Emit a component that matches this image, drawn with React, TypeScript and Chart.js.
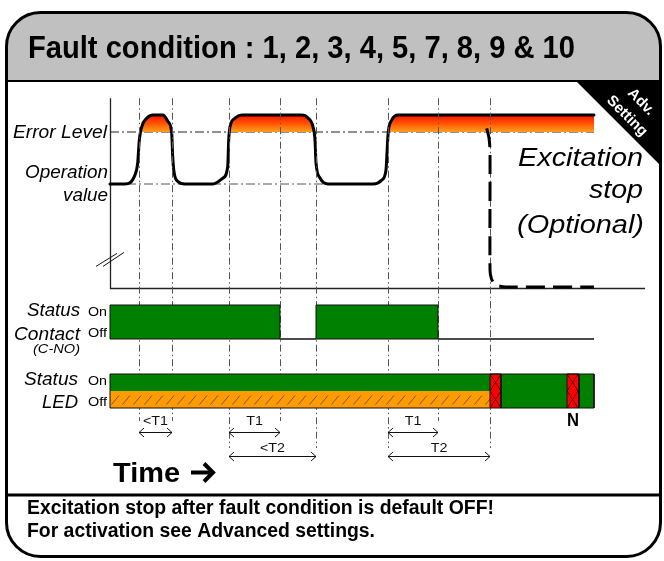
import React, { useEffect, useRef } from "react";
import { Chart, registerables } from "chart.js";

Chart.register(...registerables);

const W = 664;
const H = 561;
const FONT = '"Liberation Sans", Arial, Helvetica, sans-serif';

// ---------------- data ----------------
// time in arbitrary units (T1 ≈ 5, T2 ≈ 10); signal level in arbitrary units
const ERROR_LEVEL = 80;
const OPERATION_VALUE = 60;
const AXIS_FLOOR = 20;
const AXIS_TOP = 93;
const AXIS_END = 53.5;
const BREAK_LEVEL = 31;

const SIGNAL_T = [0, 1.5, 2.5, 2.77, 2.93, 3.17, 3.67, 4.3, 5.3, 5.8, 6.17, 6.27, 6.4, 6.8, 7.5, 10.3, 11.3, 11.77, 11.87, 12.0, 12.5, 13.17, 19.17, 19.8, 20.3, 20.5, 20.6, 21.0, 21.8, 26.33, 27.17, 27.6, 27.73, 27.83, 28.17, 28.83, 48.4];
const SIGNAL_V = [60, 60, 63.5, 68.1, 76.9, 82.0, 85.3, 86.5, 86.5, 84.0, 79.6, 70.5, 64.7, 60.9, 60, 60, 62.3, 66.7, 76.9, 82.0, 85.3, 86.5, 86.5, 85.4, 82.0, 76.9, 68.1, 62.3, 60, 60, 61.5, 65.4, 74.3, 80.1, 84.6, 86.5, 86.5];

const ERROR_LINE_T = [0, 48.4];
const OPERATION_LINE_T = [0, 26.6];

const EXCITATION_T = [37.67, 37.9, 38.0, 38.0, 38.15, 38.5, 39.0, 39.6, 48.4];
const EXCITATION_V = [81.4, 77.7, 73.1, 26.9, 23.5, 21.3, 20.7, 20.4, 20.4];

const EVENT_TIMES = [2.9, 6.2, 11.9, 17.0, 20.6, 27.8, 32.8, 38.0];
const EVENT_ROWS = [1, 1, 2, 1, 2, 2, 1, 2];

const CONTACT_T = [0, 0, 17.0, 20.6, 32.8, 48.4];
const CONTACT_S = [0, 1, 0, 1, 0, 0];

const LED_BLINK = [0, 38.0];
const LED_FAULT = [[38.0, 39.1], [45.7, 46.9]];
const LED_STEADY = [[39.1, 45.7], [46.9, 48.4]];
const LED_END = 48.4;
const FAULT_MARK_T = 46.3;

const ARROW_FROM = [2.9, 11.9, 11.9, 27.8, 27.8];
const ARROW_TO = [6.2, 17.0, 20.6, 32.8, 38.0];
const ARROW_ROW = [1, 1, 2, 1, 2];
const ARROW_LABEL = ["<T1", "T1", "<T2", "T1", "T2"];

// ---------------- helpers ----------------
function span(v0: number, p0: number, v1: number, p1: number, size: number) {
  const k = (p1 - p0) / (v1 - v0);
  const a = v0 + (0 - p0) / k;
  const b = v0 + (size - p0) / k;
  return { min: Math.min(a, b), max: Math.max(a, b) };
}

function pts(xs: number[], ys: number[]) {
  return xs.map((x, i) => ({ x, y: ys[i] }));
}

function rectPts(x0: number, x1: number, b: number, t: number) {
  return [
    { x: x0, y: b },
    { x: x0, y: t },
    { x: x1, y: t },
    { x: x1, y: b },
  ];
}

function roundRectPath(ctx: CanvasRenderingContext2D, x: number, y: number, w: number, h: number, r: number) {
  ctx.beginPath();
  ctx.moveTo(x + r, y);
  ctx.lineTo(x + w - r, y);
  ctx.arcTo(x + w, y, x + w, y + r, r);
  ctx.lineTo(x + w, y + h - r);
  ctx.arcTo(x + w, y + h, x + w - r, y + h, r);
  ctx.lineTo(x + r, y + h);
  ctx.arcTo(x, y + h, x, y + h - r, r);
  ctx.lineTo(x, y + r);
  ctx.arcTo(x, y, x + r, y, r);
  ctx.closePath();
}

function fit(ctx: CanvasRenderingContext2D, text: string, font: string, x0: number, x1: number, y: number, color = "#000") {
  ctx.save();
  ctx.font = font;
  ctx.fillStyle = color;
  ctx.textAlign = "left";
  ctx.textBaseline = "alphabetic";
  const m = ctx.measureText(text).width || 1;
  ctx.translate(x0, y);
  ctx.scale((x1 - x0) / m, 1);
  ctx.fillText(text, 0, 0);
  ctx.restore();
}

const FRAME = { x: 6.5, y: 12.5, w: 654, h: 544, r: 34 };

const diagramPlugin = {
  id: "diagram",
  beforeDraw(chart: any) {
    const ctx: CanvasRenderingContext2D = chart.ctx;
    ctx.save();
    ctx.fillStyle = "#fff";
    ctx.fillRect(0, 0, W, H);
    roundRectPath(ctx, FRAME.x, FRAME.y, FRAME.w, FRAME.h, FRAME.r);
    ctx.clip();
    ctx.fillStyle = "#c0c0c0";
    ctx.fillRect(0, 0, W, 81);
    ctx.fillStyle = "#000";
    ctx.beginPath();
    ctx.moveTo(576, 81);
    ctx.lineTo(668, 81);
    ctx.lineTo(668, 173);
    ctx.closePath();
    ctx.fill();
    ctx.restore();
  },
  beforeDatasetsDraw(chart: any) {
    const ctx: CanvasRenderingContext2D = chart.ctx;
    const xs = chart.scales.x;
    const ys = chart.scales.ySig;
    const x0 = Math.round(xs.getPixelForValue(0)) + 0.5;
    const yTop = ys.getPixelForValue(AXIS_TOP);
    const yFloor = Math.round(ys.getPixelForValue(AXIS_FLOOR)) + 0.5;
    const xEnd = xs.getPixelForValue(AXIS_END);
    ctx.save();
    ctx.strokeStyle = "#222";
    ctx.lineWidth = 1.3;
    ctx.beginPath();
    ctx.moveTo(x0, yTop);
    ctx.lineTo(x0, yFloor);
    ctx.lineTo(xEnd, yFloor);
    ctx.stroke();
    const yb = ys.getPixelForValue(BREAK_LEVEL);
    ctx.lineWidth = 1;
    ctx.strokeStyle = "#111";
    ctx.beginPath();
    ctx.moveTo(x0 - 14.5, yb + 7);
    ctx.lineTo(x0 + 6.5, yb - 6);
    ctx.moveTo(x0 - 7.5, yb + 7);
    ctx.lineTo(x0 + 13.5, yb - 7);
    ctx.stroke();
    ctx.restore();
  },
  afterDatasetDraw(chart: any, args: any) {
    if (chart.data.datasets[args.index].label !== "signal") return;
    const ctx: CanvasRenderingContext2D = chart.ctx;
    const xs = chart.scales.x;
    const ys = chart.scales.ySig;
    const yTop = ys.getPixelForValue(AXIS_TOP);
    ctx.save();
    ctx.strokeStyle = "#555";
    ctx.lineWidth = 1;
    ctx.setLineDash([7, 3, 1.5, 3]);
    EVENT_TIMES.forEach((t, i) => {
      const x = Math.round(xs.getPixelForValue(t)) + 0.5;
      const yEnd = EVENT_ROWS[i] === 1 ? 421 : 448;
      ctx.beginPath();
      ctx.moveTo(x, yTop);
      ctx.lineTo(x, yEnd);
      ctx.stroke();
    });
    ctx.restore();
  },
  afterDraw(chart: any) {
    const ctx: CanvasRenderingContext2D = chart.ctx;
    const xs = chart.scales.x;
    ctx.save();
    ctx.strokeStyle = "#000";
    ctx.lineWidth = 3;
    roundRectPath(ctx, FRAME.x, FRAME.y, FRAME.w, FRAME.h, FRAME.r);
    ctx.stroke();
    ctx.lineWidth = 2;
    ctx.beginPath();
    ctx.moveTo(FRAME.x, 81);
    ctx.lineTo(FRAME.x + FRAME.w, 81);
    ctx.stroke();
    ctx.lineWidth = 3;
    ctx.beginPath();
    ctx.moveTo(FRAME.x, 495);
    ctx.lineTo(FRAME.x + FRAME.w, 495);
    ctx.stroke();

    const B = (s: number) => `bold ${s}px ${FONT}`;
    const I = (s: number) => `italic ${s}px ${FONT}`;
    const R = (s: number) => `${s}px ${FONT}`;
    fit(ctx, "Fault condition : 1, 2, 3, 4, 5, 7, 8, 9 & 10", B(31), 28, 575, 58);
    fit(ctx, "Excitation stop after fault condition is default OFF!", B(20), 27, 494, 514);
    fit(ctx, "For activation see Advanced settings.", B(20), 27, 375, 537);
    fit(ctx, "Time", B(28), 113, 180, 482);
    fit(ctx, "Error Level", I(18), 13, 107, 138);
    fit(ctx, "Operation", I(18), 25, 108, 178);
    fit(ctx, "value", I(18), 63, 108, 201);
    fit(ctx, "Excitation", I(26), 518, 643, 166);
    fit(ctx, "stop", I(26), 589, 643, 198);
    fit(ctx, "(Optional)", I(26), 517, 644, 233);
    fit(ctx, "Status", I(19), 27, 80, 316);
    fit(ctx, "Contact", I(19), 14, 80, 340);
    fit(ctx, "(C-NO)", I(13), 33, 80, 353);
    fit(ctx, "On", R(13), 88, 107, 316);
    fit(ctx, "Off", R(13), 88, 107, 337);
    fit(ctx, "Status", I(19), 24, 78, 385);
    fit(ctx, "LED", I(19), 42, 78, 408);
    fit(ctx, "On", R(13), 88, 107, 385);
    fit(ctx, "Off", R(13), 88, 107, 406);
    const nx = xs.getPixelForValue(FAULT_MARK_T);
    fit(ctx, "N", B(19), nx - 6, nx + 6, 426);

    ctx.strokeStyle = "#000";
    ctx.lineWidth = 4;
    ctx.lineJoin = "miter";
    ctx.beginPath();
    ctx.moveTo(191, 472.5);
    ctx.lineTo(212, 472.5);
    ctx.stroke();
    ctx.beginPath();
    ctx.moveTo(204, 463.5);
    ctx.lineTo(213, 472.5);
    ctx.lineTo(204, 481.5);
    ctx.stroke();

    ctx.lineWidth = 1;
    ctx.strokeStyle = "#111";
    ARROW_FROM.forEach((t0, i) => {
      const a = xs.getPixelForValue(t0);
      const b = xs.getPixelForValue(ARROW_TO[i]);
      const y = ARROW_ROW[i] === 1 ? 432.5 : 456.5;
      ctx.beginPath();
      ctx.moveTo(a, y);
      ctx.lineTo(b, y);
      ctx.moveTo(a + 5, y - 4.5);
      ctx.lineTo(a, y);
      ctx.lineTo(a + 5, y + 4.5);
      ctx.moveTo(b - 5, y - 4.5);
      ctx.lineTo(b, y);
      ctx.lineTo(b - 5, y + 4.5);
      ctx.stroke();
      ctx.font = R(13);
      const m = ctx.measureText(ARROW_LABEL[i]).width * 1.1;
      const cx = (a + b) / 2;
      fit(ctx, ARROW_LABEL[i], R(13), cx - m / 2, cx + m / 2, ARROW_ROW[i] === 1 ? 424.5 : 451.5, "#111");
    });

    ctx.save();
    ctx.translate(641, 102);
    ctx.rotate(Math.PI / 4);
    ctx.fillStyle = "#fff";
    ctx.font = B(15);
    ctx.textAlign = "center";
    ctx.textBaseline = "middle";
    ctx.fillText("Adv.", 0, 0);
    ctx.fillText("Setting", 0, 20);
    ctx.restore();

    ctx.restore();
  },
};

export default function App() {
  const ref = useRef<HTMLCanvasElement>(null);

  useEffect(() => {
    const canvas = ref.current;
    if (!canvas) return;
    const ctx = canvas.getContext("2d")!;

    const xr = span(0, 110, 10, 210, W);
    const sigR = span(OPERATION_VALUE, 184, ERROR_LEVEL, 132, H);
    const relR = span(0, 339, 1, 305, H);
    const ledR = span(0, 408, 1, 374, H);
    const xPix = (v: number) => ((v - xr.min) / (xr.max - xr.min)) * W;
    const sigPix = (v: number) => ((sigR.max - v) / (sigR.max - sigR.min)) * H;

    const t1 = document.createElement("canvas");
    t1.width = 11;
    t1.height = 17;
    const g1 = t1.getContext("2d")!;
    g1.fillStyle = "#ff9a00";
    g1.fillRect(0, 0, 11, 17);
    g1.strokeStyle = "rgba(85,80,75,0.85)";
    g1.lineWidth = 1;
    g1.beginPath();
    g1.moveTo(1.5, 13.5);
    g1.lineTo(9, 4.5);
    g1.stroke();
    const hatch = ctx.createPattern(t1, "repeat")!;

    const t2 = document.createElement("canvas");
    t2.width = 11;
    t2.height = 17;
    const g2 = t2.getContext("2d")!;
    g2.fillStyle = "#ff0000";
    g2.fillRect(0, 0, 11, 17);
    g2.strokeStyle = "rgba(0,0,0,0.75)";
    g2.lineWidth = 0.9;
    g2.beginPath();
    g2.moveTo(0, 0);
    g2.lineTo(11, 17);
    g2.moveTo(11, 0);
    g2.lineTo(0, 17);
    g2.stroke();
    const cross = ctx.createPattern(t2, "repeat")!;
    try {
      (cross as any).setTransform(new DOMMatrix().translate(xPix(LED_FAULT[0][0]) % 11, 0));
    } catch (e) {}

    const peak = Math.max(...SIGNAL_V);
    const grad = ctx.createLinearGradient(0, sigPix(peak), 0, sigPix(ERROR_LEVEL));
    grad.addColorStop(0, "#ff1200");
    grad.addColorStop(0.5, "#ff5500");
    grad.addColorStop(1, "#ffa020");

    const base = {
      pointRadius: 0,
      pointHoverRadius: 0,
      pointHitRadius: 0,
      tension: 0,
      xAxisID: "x",
    };

    const datasets: any[] = [
      {
        ...base,
        label: "operation",
        yAxisID: "ySig",
        data: OPERATION_LINE_T.map((x) => ({ x, y: OPERATION_VALUE })),
        borderColor: "#555",
        borderWidth: 1,
        borderDash: [9, 3, 2, 3],
        fill: false,
        order: 100,
      },
      {
        ...base,
        label: "error",
        yAxisID: "ySig",
        data: ERROR_LINE_T.map((x) => ({ x, y: ERROR_LEVEL })),
        borderColor: "#222",
        borderWidth: 1,
        borderDash: [9, 3, 2, 3],
        fill: false,
        order: 95,
      },
      {
        ...base,
        label: "signal",
        yAxisID: "ySig",
        data: pts(SIGNAL_T, SIGNAL_V),
        cubicInterpolationMode: "monotone",
        borderColor: "#000",
        borderWidth: 3,
        borderJoinStyle: "round",
        borderCapStyle: "round",
        backgroundColor: grad,
        fill: { target: { value: ERROR_LEVEL }, above: grad, below: "rgba(0,0,0,0)" },
        order: 90,
      },
      {
        ...base,
        label: "excitation",
        yAxisID: "ySig",
        data: pts(EXCITATION_T, EXCITATION_V),
        tension: 0.2,
        borderColor: "#000",
        borderWidth: 3,
        borderDash: [19, 8],
        fill: false,
        order: 80,
      },
      {
        ...base,
        label: "contact",
        yAxisID: "yRel",
        data: pts(CONTACT_T, CONTACT_S),
        stepped: true,
        borderColor: "#111",
        borderWidth: 1,
        backgroundColor: "#008000",
        fill: { target: { value: 0 } },
        order: 70,
      },
      {
        ...base,
        label: "led-on-blink",
        yAxisID: "yLed",
        data: rectPts(LED_BLINK[0], LED_BLINK[1], 0.5, 1),
        borderWidth: 0,
        backgroundColor: "#008000",
        fill: { target: { value: 0.5 } },
        order: 60,
      },
      {
        ...base,
        label: "led-off-blink",
        yAxisID: "yLed",
        data: rectPts(LED_BLINK[0], LED_BLINK[1], 0, 0.5),
        borderWidth: 0,
        backgroundColor: hatch,
        fill: { target: { value: 0 } },
        order: 59,
      },
      ...LED_STEADY.map((s, i) => ({
        ...base,
        label: "led-on-" + i,
        yAxisID: "yLed",
        data: rectPts(s[0], s[1], 0, 1),
        borderWidth: 0,
        backgroundColor: "#008000",
        fill: { target: { value: 0 } },
        order: 58,
      })),
      ...LED_FAULT.map((s, i) => ({
        ...base,
        label: "led-fault-" + i,
        yAxisID: "yLed",
        data: rectPts(s[0], s[1], 0, 1),
        borderWidth: 1,
        borderColor: "#111",
        backgroundColor: cross,
        fill: { target: { value: 0 } },
        order: 57,
      })),
      {
        ...base,
        label: "led-outline",
        yAxisID: "yLed",
        data: rectPts(0, LED_END, 0, 1),
        borderWidth: 1,
        borderColor: "#111",
        fill: false,
        order: 50,
      },
      {
        ...base,
        label: "led-bottom",
        yAxisID: "yLed",
        data: [{ x: 0, y: 0 }, { x: LED_END, y: 0 }],
        borderWidth: 1,
        borderColor: "#111",
        fill: false,
        order: 49,
      },
      {
        ...base,
        label: "contact-base",
        yAxisID: "yRel",
        data: [{ x: 0, y: 0 }, { x: LED_END, y: 0 }],
        borderWidth: 1,
        borderColor: "#111",
        fill: false,
        order: 48,
      },
    ];

    const chart = new Chart(canvas, {
      type: "line",
      data: { datasets },
      options: {
        responsive: false,
        animation: false,
        devicePixelRatio: 1,
        events: [],
        layout: { padding: 0, autoPadding: false } as any,
        plugins: {
          legend: { display: false },
          tooltip: { enabled: false },
          title: { display: false },
        },
        scales: {
          x: { type: "linear", axis: "x", display: false, min: xr.min, max: xr.max } as any,
          ySig: { type: "linear", axis: "y", display: false, min: sigR.min, max: sigR.max } as any,
          yRel: { type: "linear", axis: "y", display: false, min: relR.min, max: relR.max } as any,
          yLed: { type: "linear", axis: "y", display: false, min: ledR.min, max: ledR.max } as any,
        },
      },
      plugins: [diagramPlugin as any],
    });

    return () => chart.destroy();
  }, []);

  return (
    <div style={{ position: "fixed", left: 0, top: 0, width: W, height: H, background: "#fff" }}>
      <canvas ref={ref} width={W} height={H} style={{ display: "block", width: W, height: H }} />
    </div>
  );
}
